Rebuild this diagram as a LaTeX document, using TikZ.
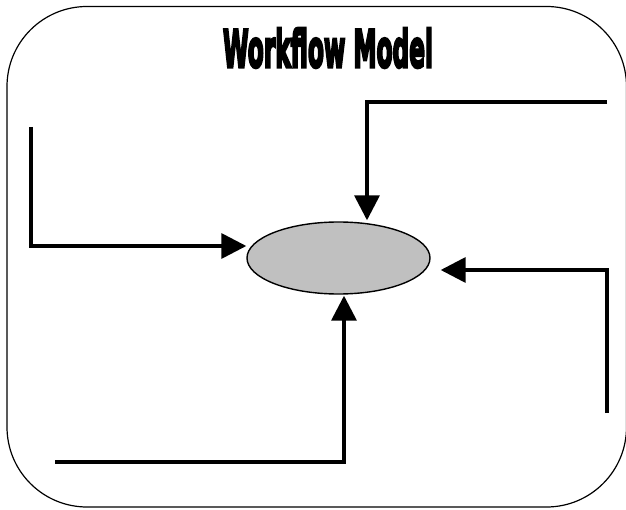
\documentclass[tikz,border=0pt]{standalone}
\usepackage{fontspec}
\usetikzlibrary{arrows.meta,shapes.geometric,calc}
\newfontfamily\titlefont{DejaVu Sans}[FakeBold=6]
\definecolor{ovalfill}{RGB}{192,192,192}
\tikzset{
  frame/.style={draw=black,line width=1.2pt,rounded corners=80pt},
  flow/.style={draw=black,line width=3.5pt,line join=miter,
    -{Triangle[length=25pt,width=25pt]}},
  task/.style={ellipse,draw=black,line width=1.4pt,fill=ovalfill,
    minimum width=183pt,minimum height=72pt,inner sep=0pt}
}
\begin{document}
\begin{tikzpicture}[x=1pt,y=-1pt]
\useasboundingbox (0,0) rectangle (626,510);
% outer frame
\draw[frame] (7,6.5) rectangle (626.5,507);
% title
\node[inner sep=0pt] (title) at (328,48) {\resizebox{210pt}{39pt}{\titlefont\bfseries Workflow Model}};
% central activity
\node[task] (act) at (338.5,258) {};
% connector end points
\coordinate (inL) at (31,127);
\coordinate (inT) at (607,102);
\coordinate (inR) at (607,413);
\coordinate (inB) at (55,462);
\coordinate (tipL) at ($(act.west)+(0,-12)$);
\coordinate (tipT) at ($(act.north)+(28.5,-1)$);
\coordinate (tipR) at ($(act.east)+(10,12)$);
\coordinate (tipB) at ($(act.south)+(5.5,1)$);
% incoming flows
\draw[flow] (inL) |- (tipL);
\draw[flow] (inT) -| (tipT);
\draw[flow] (inR) |- (tipR);
\draw[flow] (inB) -| (tipB);
\end{tikzpicture}
\end{document}
